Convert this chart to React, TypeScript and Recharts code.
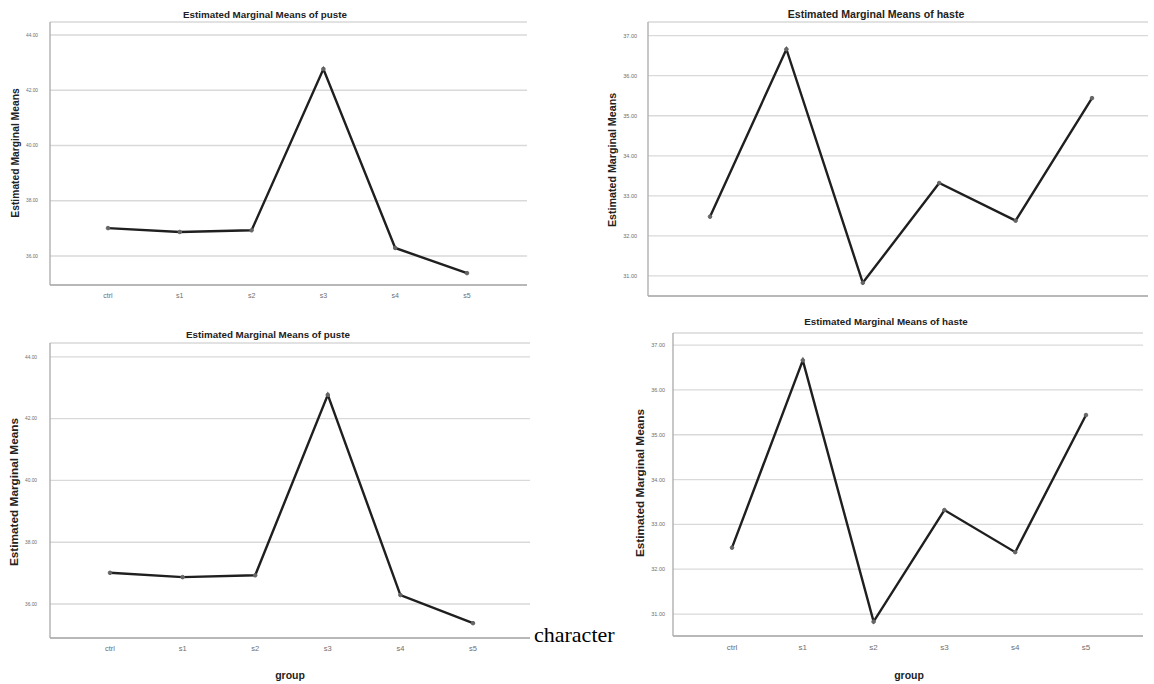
import { LineChart, Line, XAxis, YAxis, CartesianGrid } from 'recharts';

const groups = ['ctrl', 's1', 's2', 's3', 's4', 's5'];
const pusteMeans = [37.01, 36.87, 36.93, 42.77, 36.29, 35.38];
const hasteMeans = [32.48, 36.66, 30.83, 33.32, 32.38, 35.44];
const pusteTicks = [36, 38, 40, 42, 44];
const hasteTicks = [31, 32, 33, 34, 35, 36, 37];

const pusteData = groups.map((g, i) => ({ group: g, mean: pusteMeans[i] }));
const hasteData = groups.map((g, i) => ({ group: g, mean: hasteMeans[i] }));

const FONT = '"Liberation Sans", Arial, sans-serif';

type PanelProps = {
  left: number;
  top: number;
  width: number;
  height: number;
  margin: { top: number; right: number; bottom: number; left: number };
  xHeight: number;
  padL: number;
  padR: number;
  data: { group: string; mean: number }[];
  domain: [number, number];
  ticks: number[];
  yTickSize: number;
  yTickGap: number;
  xTickSize: number;
  showX: boolean;
};

const Panel = (p: PanelProps) => (
  <div style={{ position: 'absolute', left: p.left, top: p.top }}>
    <LineChart width={p.width} height={p.height} data={p.data} margin={p.margin}>
      <CartesianGrid vertical={false} stroke="#d9d9d9" strokeWidth={1.3} />
      <XAxis
        dataKey="group"
        height={p.xHeight}
        padding={{ left: p.padL, right: p.padR }}
        tickLine={false}
        tickSize={0}
        tickMargin={8}
        tick={p.showX ? { fontSize: p.xTickSize, fill: '#6e6e6e', fontFamily: FONT } : false}
        axisLine={{ stroke: '#aaa', strokeWidth: 1.3 }}
      />
      <YAxis
        width={30}
        domain={p.domain}
        ticks={p.ticks}
        allowDataOverflow
        tickLine={false}
        tickSize={0}
        tickMargin={p.yTickGap}
        tickFormatter={(v: number) => v.toFixed(2)}
        tick={{ fontSize: p.yTickSize, fill: '#6e6e6e', fontFamily: FONT }}
        axisLine={{ stroke: '#aaa', strokeWidth: 1.3 }}
      />
      <Line
        type="linear"
        dataKey="mean"
        stroke="#1f1f1f"
        strokeWidth={2.4}
        dot={{ r: 1.8, fill: '#666', stroke: '#666', strokeWidth: 1 }}
        isAnimationActive={false}
      />
    </LineChart>
  </div>
);

const Title = ({ x, y, size, text }: { x: number; y: number; size: number; text: string }) => (
  <div
    style={{
      position: 'absolute',
      left: x,
      top: y,
      transform: 'translate(-50%, -50%)',
      fontFamily: FONT,
      fontWeight: 'bold',
      fontSize: size,
      color: '#222',
      whiteSpace: 'nowrap',
    }}
  >
    {text}
  </div>
);

const VLabel = ({ x, y, size }: { x: number; y: number; size: number }) => (
  <div
    style={{
      position: 'absolute',
      left: x,
      top: y,
      transform: 'translate(-50%, -50%) rotate(-90deg)',
      fontFamily: FONT,
      fontWeight: 'bold',
      fontSize: size,
      color: '#222',
      whiteSpace: 'nowrap',
    }}
  >
    Estimated Marginal Means
  </div>
);

export default function App() {
  return (
    <div style={{ position: 'absolute', left: 0, top: 0, width: 1154, height: 684, background: '#fff', overflow: 'hidden' }}>
      {/* top left: puste */}
      <Panel
        left={0}
        top={0}
        width={540}
        height={310}
        margin={{ top: 22, right: 13, bottom: 0, left: 20 }}
        xHeight={25}
        padL={58}
        padR={60}
        data={pusteData}
        domain={[34.95, 44.47]}
        ticks={pusteTicks}
        yTickSize={4.8}
        yTickGap={12}
        xTickSize={7}
        showX
      />
      {/* bottom left: puste */}
      <Panel
        left={0}
        top={300}
        width={540}
        height={384}
        margin={{ top: 43, right: 10, bottom: 26, left: 20 }}
        xHeight={20}
        padL={60}
        padR={57}
        data={pusteData}
        domain={[34.9, 44.45]}
        ticks={pusteTicks}
        yTickSize={4.8}
        yTickGap={13}
        xTickSize={7.5}
        showX
      />
      {/* top right: haste */}
      <Panel
        left={580}
        top={0}
        width={574}
        height={300}
        margin={{ top: 22, right: 6, bottom: 0, left: 38 }}
        xHeight={4}
        padL={62}
        padR={56}
        data={hasteData}
        domain={[30.5, 37.34]}
        ticks={hasteTicks}
        yTickSize={5.5}
        yTickGap={11}
        xTickSize={7}
        showX={false}
      />
      {/* bottom right: haste */}
      <Panel
        left={580}
        top={300}
        width={574}
        height={384}
        margin={{ top: 33, right: 11, bottom: 28, left: 63 }}
        xHeight={20}
        padL={59}
        padR={57}
        data={hasteData}
        domain={[30.51, 37.27]}
        ticks={hasteTicks}
        yTickSize={5.5}
        yTickGap={8}
        xTickSize={8}
        showX
      />

      <Title x={265} y={14} size={9.8} text="Estimated Marginal Means of puste" />
      <Title x={268} y={334} size={9.8} text="Estimated Marginal Means of puste" />
      <Title x={876} y={14} size={10.6} text="Estimated Marginal Means of haste" />
      <Title x={886} y={321} size={9.8} text="Estimated Marginal Means of haste" />

      <VLabel x={15} y={153} size={10.3} />
      <VLabel x={14} y={492} size={11.8} />
      <VLabel x={612} y={160} size={10.7} />
      <VLabel x={640} y={483} size={11.8} />

      <Title x={290} y={675} size={10.5} text="group" />
      <Title x={909} y={675} size={10.5} text="group" />

      <div
        style={{
          position: 'absolute',
          left: 534,
          top: 622,
          fontFamily: '"Liberation Serif", "Times New Roman", serif',
          fontSize: 22,
          color: '#000',
          whiteSpace: 'nowrap',
        }}
      >
        character
      </div>
    </div>
  );
}
